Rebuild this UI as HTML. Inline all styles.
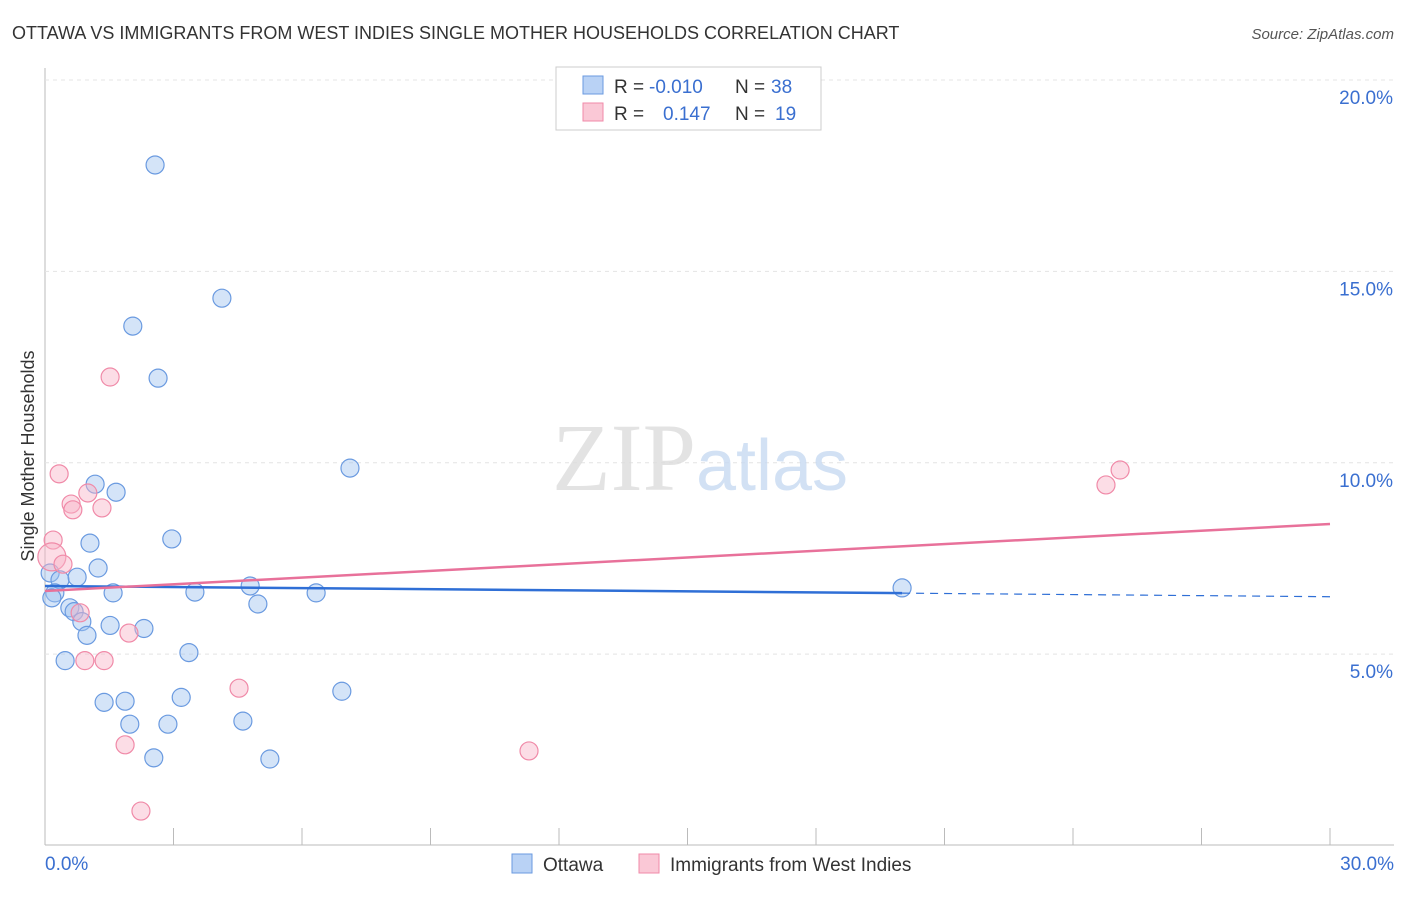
<!DOCTYPE html>
<html><head><meta charset="utf-8"><style>
body{margin:0;background:#fff;font-family:"Liberation Sans",sans-serif}
</style></head><body>
<svg id="chart" width="1406" height="892" xmlns="http://www.w3.org/2000/svg" font-family="Liberation Sans, sans-serif">
<text x="12" y="39" font-size="18" fill="#333">OTTAWA VS IMMIGRANTS FROM WEST INDIES SINGLE MOTHER HOUSEHOLDS CORRELATION CHART</text>
<text x="1394" y="39" font-size="15" fill="#555" font-style="italic" text-anchor="end">Source: ZipAtlas.com</text>
<g id="grid"></g>
<text x="700" y="490" font-size="96" text-anchor="middle" font-family="Liberation Serif, serif" fill="#ddd" opacity="0.8">ZIP<tspan fill="#c8daf2" font-family="Liberation Sans, sans-serif" font-size="72">atlas</tspan></text>
<text transform="translate(34,456) rotate(-90)" font-size="18" fill="#333" text-anchor="middle">Single Mother Households</text>
<g id="marks"></g>
<g>
<rect x="556" y="67" width="265" height="63" fill="#fff" stroke="#ccc"/>
<rect x="583" y="76" width="20" height="18" fill="#b9d2f5" stroke="#6a9ae0"/>
<rect x="583" y="103" width="20" height="18" fill="#fac8d6" stroke="#f08aa8"/>
<text x="614" y="93" font-size="19" fill="#333">R =</text>
<text x="649" y="93" font-size="19" fill="#3a6fd0">-0.010</text>
<text x="735" y="93" font-size="19" fill="#333">N =</text>
<text x="771" y="93" font-size="19" fill="#3a6fd0">38</text>
<text x="614" y="120" font-size="19" fill="#333">R =</text>
<text x="663" y="120" font-size="19" fill="#3a6fd0">0.147</text>
<text x="735" y="120" font-size="19" fill="#333">N =</text>
<text x="775" y="120" font-size="19" fill="#3a6fd0">19</text>
</g>
<g>
<rect x="512" y="854" width="20" height="19" fill="#b9d2f5" stroke="#6a9ae0"/>
<text x="543" y="871" font-size="19" fill="#333">Ottawa</text>
<rect x="639" y="854" width="20" height="19" fill="#fac8d6" stroke="#f08aa8"/>
<text x="670" y="871" font-size="19" fill="#333">Immigrants from West Indies</text>
</g>
</svg>
<script>
const yTicks=[5,10,15,20];
const yTickLabels=["5.0%","10.0%","15.0%","20.0%"];
const xTicks=[0,3,6,9,12,15,18,21,24,27,30];
const ottawaX=[2.57,4.13,2.05,2.64,7.12,1.17,1.66,2.96,1.05,1.24,0.12,0.35,0.75,1.59,0.23,0.16,3.50,4.79,4.97,6.33,0.58,0.68,0.86,1.52,2.31,0.98,3.36,0.47,3.18,1.38,1.87,1.98,2.87,4.62,6.93,2.54,5.25,20.01];
const ottawaY=[17.78,14.30,13.57,12.21,9.86,9.44,9.23,8.01,7.90,7.25,7.12,6.94,7.01,6.60,6.60,6.47,6.62,6.78,6.31,6.60,6.21,6.11,5.85,5.75,5.67,5.49,5.04,4.83,3.87,3.74,3.77,3.17,3.17,3.25,4.03,2.29,2.26,6.73];
const wiX=[0.33,0.61,1.00,0.65,1.33,1.52,0.19,0.16,0.42,0.82,1.96,0.93,1.38,4.53,1.87,2.24,11.30,24.77,25.10];
const wiY=[9.71,8.92,9.21,8.77,8.82,12.24,7.98,7.54,7.35,6.08,5.55,4.83,4.83,4.11,2.63,0.90,2.47,9.42,9.81];
const ottawaTrend=[6.78,6.50];
const wiTrend=[6.65,8.40];
const ottawaMaxX=20.01;
const NS="http://www.w3.org/2000/svg";
const X=v=>45+v/30*1285;
const Y=v=>845.5-v/20*765.5;
function mk(t,a,p){const e=document.createElementNS(NS,t);for(const k in a)e.setAttribute(k,a[k]);p.appendChild(e);return e;}
const grid=document.getElementById('grid'),marks=document.getElementById('marks');
let ax=mk('line',{x1:45,y1:68,x2:45,y2:845,stroke:'#bbb'},grid);


let bx=mk('line',{x1:45,y1:845,x2:1394,y2:845,stroke:'#bbb'},grid);


yTicks.forEach((v,i)=>{
 const g=mk('line',{x1:45,x2:1394,y1:Y(v),y2:Y(v),stroke:'#e4e4e4','stroke-dasharray':'4,4'},grid);
 
 
 const t=mk('text',{x:1393,y:Y(v)+24,'font-size':19,fill:'#3a6fd0','text-anchor':'end'},grid);
 t.textContent=yTickLabels[i];
 
 
});
xTicks.forEach(v=>{
 if(v===0)return;
 const l=mk('line',{x1:X(v),x2:X(v),y1:828,y2:845,stroke:'#bbb'},grid);
 
 
});
[[0,"0.0%","start",45],[30,"30.0%","end",1394]].forEach(a=>{
 const t=mk('text',{x:a[3],y:870,'font-size':19,fill:'#3a6fd0','text-anchor':a[2]},grid);
 t.textContent=a[1];
 
 
});
ottawaX.forEach((x,i)=>{
 const c=mk('circle',{cx:X(x),cy:Y(ottawaY[i]),r:9,fill:'rgba(160,195,240,0.45)',stroke:'#6a9ae0','stroke-width':1.2},marks);
 
 
});
wiX.forEach((x,i)=>{
 const c=mk('circle',{cx:X(x),cy:Y(wiY[i]),r:i===7?14:9,fill:'rgba(248,180,200,0.45)',stroke:'#f08aa8','stroke-width':1.2},marks);
 
 
});
const ob=v=>ottawaTrend[0]+(ottawaTrend[1]-ottawaTrend[0])*v/30;
let l1=mk('line',{x1:X(0),y1:Y(ob(0)),x2:X(ottawaMaxX),y2:Y(ob(ottawaMaxX)),stroke:'#2f6fd6','stroke-width':2.5},marks);


let l2=mk('line',{x1:X(ottawaMaxX),y1:Y(ob(ottawaMaxX)),x2:X(30),y2:Y(ob(30)),stroke:'#2f6fd6','stroke-width':1.2,'stroke-dasharray':'8,6'},marks);


let l3=mk('line',{x1:X(0),y1:Y(wiTrend[0]),x2:X(30),y2:Y(wiTrend[1]),stroke:'#e8719a','stroke-width':2.5},marks);


</script>
</body></html>
